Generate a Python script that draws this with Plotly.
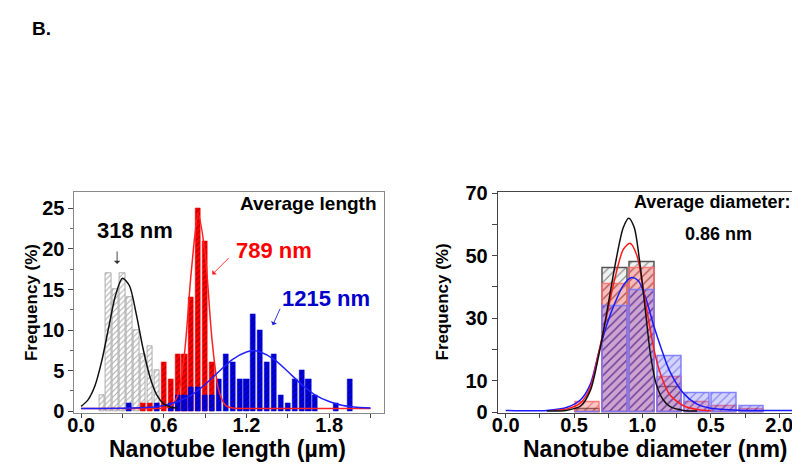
import plotly.graph_objects as go

# ---------------- data: left panel (nanotube length) ----------------
len_gray_x = [0.15, 0.20, 0.25, 0.30, 0.35, 0.40, 0.45, 0.50, 0.55]
len_gray_y = [2, 17, 15, 17, 14, 10, 7, 8, 5]

len_red_x = [0.45, 0.50, 0.60, 0.65, 0.70, 0.75, 0.80, 0.85, 0.90, 0.95]
len_red_y = [1, 1, 6, 4, 7, 7, 14, 25, 21, 6]

len_blue_x = [0.35, 0.55, 0.65, 0.70, 0.75, 0.80, 0.85, 0.90, 0.95, 1.00, 1.05,
              1.10, 1.15, 1.20, 1.25, 1.30, 1.35, 1.40, 1.45, 1.50, 1.55, 1.60,
              1.65, 1.70, 1.85, 1.95]
len_blue_y = [1, 1, 1, 2, 2, 3, 3, 2, 2, 4, 7, 6, 4, 4, 12, 10, 6, 7, 2, 1, 4, 5,
              4, 2, 1, 4]

# fitted curves
fit_black_x = [0.0, 0.05, 0.1, 0.15, 0.2, 0.25, 0.3, 0.35, 0.4, 0.45, 0.5, 0.55, 0.6, 0.65, 0.7]
fit_black_y = [0.6, 1.4, 3.1, 6.2, 10.3, 14.3, 16.4, 15.5, 12.0, 7.7, 4.2, 2.0, 0.9, 0.5, 0.4]

fit_red_x = [0.0, 0.3, 0.5, 0.6, 0.65, 0.7, 0.75, 0.8, 0.85, 0.9, 0.95, 1.0, 1.05, 1.1, 1.2, 1.4, 1.7, 2.1]
fit_red_y = [0.35, 0.35, 0.35, 0.4, 0.6, 1.9, 7.1, 17.3, 24.3, 19.4, 8.8, 2.5, 0.7, 0.4, 0.35, 0.35, 0.35, 0.35]

fit_blue_x = [0.0, 0.3, 0.5, 0.6, 0.7, 0.8, 0.9, 1.0, 1.1, 1.2, 1.25, 1.3, 1.4, 1.5,
              1.6, 1.7, 1.8, 1.9, 2.0, 2.1]
fit_blue_y = [0.35, 0.36, 0.48, 0.7, 1.2, 2.0, 3.3, 4.9, 6.4, 7.3, 7.45, 7.3, 6.4, 4.9,
              3.3, 2.0, 1.2, 0.7, 0.5, 0.4]

len_tick_vals = [0.0, 0.3, 0.6, 0.9, 1.2, 1.5, 1.8, 2.1]
len_tick_text = ["0.0", "", "0.6", "", "1.2", "", "1.8", ""]

# ---------------- data: right panel (nanotube diameter) ----------------
dia_x = [0.6, 0.8, 1.0, 1.2, 1.4, 1.6, 1.8]
dia_black = [1, 46, 48, 8, 0, 0, 0]
dia_red = [3, 41, 46, 11, 3, 2, 1]
dia_blue = [0, 34, 39, 18, 6, 6, 2]

dfit_black_x = [0.3, 0.45, 0.55, 0.62, 0.68, 0.74, 0.8, 0.86, 0.9, 0.94, 0.98, 1.02, 1.06,
                1.1, 1.15, 1.2, 1.3, 1.4]
dfit_black_y = [0.3, 0.6, 2, 7, 18, 32, 47, 59, 62, 59, 48, 33, 18, 9, 4, 1.8, 0.5, 0.3]

dfit_red_x = [0.35, 0.45, 0.55, 0.62, 0.68, 0.74, 0.8, 0.86, 0.91, 0.96, 1.0, 1.05, 1.1,
              1.15, 1.2, 1.3, 1.4, 1.5]
dfit_red_y = [0.5, 1, 3, 8, 19, 31, 43, 52, 54, 50, 41, 28, 17, 10, 5.5, 2, 0.8, 0.4]

dfit_blue_x = [0.0, 0.3, 0.45, 0.55, 0.62, 0.68, 0.74, 0.8, 0.86, 0.92, 0.97, 1.02, 1.08,
               1.14, 1.2, 1.3, 1.4, 1.5, 1.7, 2.2]
dfit_blue_y = [0.5, 0.5, 1.5, 4, 9, 19, 28, 35, 40.5, 43, 42, 37, 28, 20, 13, 6, 2.5, 1.2,
               0.6, 0.5]

dia_tick_vals = [0.0, 0.25, 0.5, 0.75, 1.0, 1.25, 1.5, 1.75, 2.0]
dia_tick_text = ["0.0", "", "0.5", "", "1.0", "", "0.5", "", "2.0"]
freq_tick_vals = [0, 10, 20, 30, 40, 50, 60, 70]
freq_tick_text = ["0", "10", "", "30", "", "50", "", "70"]

# ---------------- figure ----------------
W, H = 800, 466
FONT = "Liberation Sans, Arial, sans-serif"


def px(x):
    return x / W


def py(y):
    return 1 - y / H


fig = go.Figure()

# left panel bars
fig.add_trace(go.Bar(
    x=len_gray_x, y=len_gray_y, width=0.040, xaxis="x", yaxis="y",
    marker=dict(color="white", line=dict(color="#9a9a9a", width=0.8),
                pattern=dict(shape="/", fgcolor="#555555", bgcolor="white",
                             size=4, solidity=0.25)),
    showlegend=False))
fig.add_trace(go.Bar(
    x=len_red_x, y=len_red_y, width=0.037, xaxis="x", yaxis="y",
    marker=dict(color="#ff0000", line=dict(color="#ff0000", width=0.5),
                pattern=dict(shape="/", fgcolor="#3a0000", bgcolor="#ff0000",
                             size=4, solidity=0.25)),
    showlegend=False))
fig.add_trace(go.Bar(
    x=len_blue_x, y=len_blue_y, width=0.037, xaxis="x", yaxis="y",
    marker=dict(color="#0000e0", line=dict(color="#0000e0", width=0.5),
                pattern=dict(shape="/", fgcolor="#000033", bgcolor="#0000e0",
                             size=4, solidity=0.25)),
    showlegend=False))

# left panel fits
for fx, fy, col in [(fit_red_x, fit_red_y, "#ff2020"),
                    (fit_blue_x, fit_blue_y, "#2020ff"),
                    (fit_black_x, fit_black_y, "#111111")]:
    fig.add_trace(go.Scatter(x=fx, y=fy, mode="lines", xaxis="x", yaxis="y",
                             line=dict(color=col, width=1.5, shape="spline", smoothing=0.8),
                             showlegend=False, hoverinfo="skip"))

# right panel bars
fig.add_trace(go.Bar(
    x=dia_x, y=dia_black, width=0.18, xaxis="x2", yaxis="y2",
    marker=dict(color="rgba(210,210,210,0.5)", line=dict(color="#555555", width=1.5),
                pattern=dict(shape="/", fgcolor="#333333", bgcolor="rgba(225,225,225,0.5)",
                             size=6, solidity=0.2)),
    showlegend=False))
fig.add_trace(go.Bar(
    x=dia_x, y=dia_red, width=0.18, xaxis="x2", yaxis="y2",
    marker=dict(color="rgba(255,80,80,0.35)", line=dict(color="rgba(255,110,110,0.9)", width=1.5),
                pattern=dict(shape="/", fgcolor="rgba(170,0,0,0.7)", bgcolor="rgba(255,90,90,0.35)",
                             size=6, solidity=0.2)),
    showlegend=False))
fig.add_trace(go.Bar(
    x=dia_x, y=dia_blue, width=0.18, xaxis="x2", yaxis="y2",
    marker=dict(color="rgba(90,90,255,0.3)", line=dict(color="rgba(120,120,255,0.9)", width=1.5),
                pattern=dict(shape="/", fgcolor="rgba(0,0,200,0.7)", bgcolor="rgba(110,110,255,0.3)",
                             size=6, solidity=0.2)),
    showlegend=False))

for fx, fy, col in [(dfit_blue_x, dfit_blue_y, "#1a1aff"),
                    (dfit_red_x, dfit_red_y, "#ff1a1a"),
                    (dfit_black_x, dfit_black_y, "#111111")]:
    fig.add_trace(go.Scatter(x=fx, y=fy, mode="lines", xaxis="x2", yaxis="y2",
                             line=dict(color=col, width=1.5, shape="spline", smoothing=0.8),
                             showlegend=False, hoverinfo="skip"))

tickfont = dict(family=FONT, size=20, color="black", weight="bold")

axis_common = dict(showgrid=False, zeroline=False, showline=True, mirror=True,
                   ticks="outside", tickwidth=1, tickcolor="#444",
                   tickfont=tickfont)

fig.update_layout(
    width=W, height=H, margin=dict(l=0, r=0, t=0, b=0),
    paper_bgcolor="white", plot_bgcolor="white",
    barmode="overlay", bargap=0,
    font=dict(family=FONT, color="black"),
    xaxis=dict(domain=[px(60), px(372)], range=[-0.048, 2.196], anchor="y",
               tickmode="array", tickvals=len_tick_vals, ticktext=len_tick_text,
               ticklen=4, ticklabelstandoff=-10,
               linecolor="#8a8a8a", linewidth=1, **axis_common),
    yaxis=dict(domain=[py(413), py(182)], range=[-0.25, 27.0], anchor="x",
               tickmode="array", tickvals=[0, 5, 10, 15, 20, 25], ticklen=5,
               minor=dict(ticks="outside", ticklen=3, tickcolor="#666", dtick=2.5),
               linecolor="#8a8a8a", linewidth=1, **axis_common),
    xaxis2=dict(domain=[px(487), px(798)], range=[-0.058, 2.196], anchor="y2",
                tickmode="array", tickvals=dia_tick_vals, ticktext=dia_tick_text,
                ticklen=4, ticklabelstandoff=-10,
                linecolor="#444", linewidth=1, **axis_common),
    yaxis2=dict(domain=[py(413), py(182)], range=[-0.4, 70.3], anchor="x2",
                tickmode="array", tickvals=freq_tick_vals, ticktext=freq_tick_text,
                ticklen=5,
                linecolor="#444", linewidth=1, **axis_common),
)

ann = []


def text(x, y, s, size, color="black", bold=True, angle=0):
    ann.append(dict(x=px(x), y=py(y), xref="paper", yref="paper", text=s,
                    showarrow=False, xanchor="center", yanchor="middle", textangle=angle,
                    font=dict(family=FONT, size=size, color=color,
                              weight="bold" if bold else "normal")))


def arrow(x0, y0, x1, y1, color):
    ann.append(dict(x=px(x1), y=py(y1), xref="paper", yref="paper",
                    ax=x0 - x1, ay=y0 - y1, axref="pixel", ayref="pixel",
                    text="", showarrow=True, arrowhead=1, arrowsize=1.2,
                    arrowwidth=0.9, arrowcolor=color))


text(27, 11, "B.", 19)
text(296, 194, "Average length", 19)
text(121, 222, "318 nm", 22)
text(261, 243, "789 nm", 22, color="#ff0000")
text(314, 293, "1215 nm", 22, color="#0000cc")
arrow(103, 243, 103, 257, "#333333")
arrow(217, 250, 199, 268, "#ff2020")
arrow(268, 303, 260, 321, "#2020dd")
text(214, 450, "Nanotube length (µm)", 23)
text(16, 297, "Frequency (%)", 17, angle=-90)

text(703, 192, "Average diameter:", 18)
text(710, 226, "0.86 nm", 18)
text(646, 450, "Nanotube diameter (nm)", 23)
text(431, 297, "Frequency (%)", 17, angle=-90)

fig.update_layout(annotations=ann)

fig.write_html("out.html")
